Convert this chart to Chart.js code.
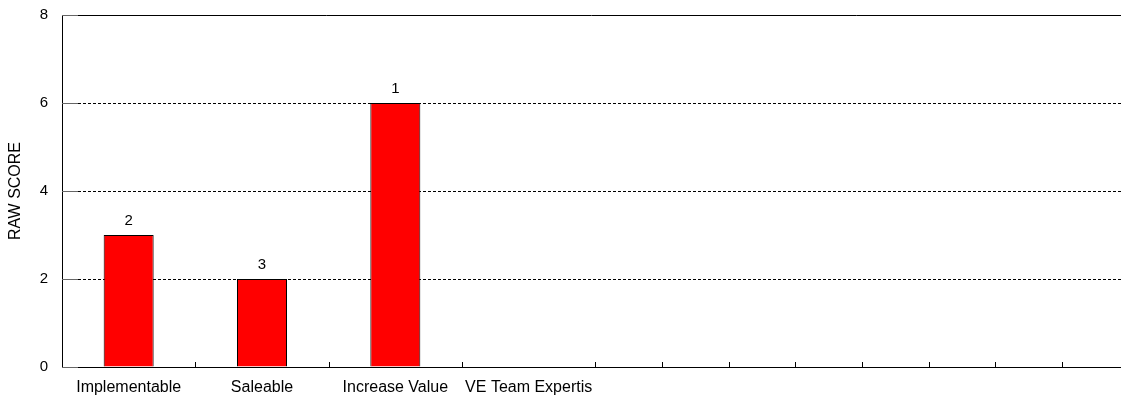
<!DOCTYPE html>
<html>
<head>
<meta charset="utf-8">
<script src="https://cdn.jsdelivr.net/npm/chart.js@4/dist/chart.umd.min.js"></script>
<style>
    html, body { margin: 0; padding: 0; background: #fff; }
    #wrap { width: 1121px; height: 401px; position: relative; }
</style>
</head>
<body>
<div id="wrap"><canvas id="scoreChart"></canvas></div>
<script>
// данные графика
const categories = ['Implementable', 'Saleable', 'Increase Value', 'VE Team Expertis', '', '', '', ''];
const rawScores = [3, 2, 6, 0, 0, 0, 0, 0];
const ranks = ['2', '3', '1', '', '', '', '', ''];
const yTicks = [0, 2, 4, 6, 8];
const xTickMarks = [1, 2, 3, 4, 4.5, 5, 5.5, 6, 6.5, 7, 7.5];

const FONT = 'Liberation Sans, Arial, sans-serif';

// точки баров по центрам категорий
const barPoints = rawScores.map((v, i) => ({ x: i + 0.5, y: v }));

// рамка: верхняя линия и внутренние засечки
const framePlugin = {
    id: 'frame',
    afterDatasetsDraw(chart) {
        const { ctx, chartArea, scales } = chart;
        ctx.save();
        ctx.strokeStyle = '#000';
        ctx.lineWidth = 1;
        ctx.beginPath();
        ctx.moveTo(chartArea.left, Math.round(chartArea.top) + 0.5);
        ctx.lineTo(chartArea.right, Math.round(chartArea.top) + 0.5);
        ctx.stroke();

        ctx.strokeStyle = '#666';
        yTicks.forEach(v => {
            const y = Math.round(scales.y.getPixelForValue(v)) + 0.5;
            ctx.beginPath();
            ctx.moveTo(chartArea.left, y);
            ctx.lineTo(chartArea.left + 16, y);
            ctx.stroke();
        });
        ctx.strokeStyle = '#000';
        xTickMarks.forEach(v => {
            const x = Math.round(scales.x.getPixelForValue(v)) + 0.5;
            ctx.beginPath();
            ctx.moveTo(x, chartArea.bottom);
            ctx.lineTo(x, chartArea.bottom - 5);
            ctx.stroke();
        });
        ctx.restore();
    }
};

// подписи рангов над барами
const rankPlugin = {
    id: 'ranks',
    afterDatasetsDraw(chart) {
        const { ctx } = chart;
        const meta = chart.getDatasetMeta(0);
        ctx.save();
        ctx.font = '15px ' + FONT;
        ctx.fillStyle = '#000';
        ctx.textAlign = 'center';
        ctx.textBaseline = 'alphabetic';
        meta.data.forEach((bar, i) => {
            if (ranks[i]) ctx.fillText(ranks[i], bar.x, bar.y - 10);
        });
        ctx.restore();
    }
};

const ctx = document.getElementById('scoreChart').getContext('2d');
new Chart(ctx, {
    type: 'bar',
    data: {
        datasets: [{
            data: barPoints,
            backgroundColor: '#FF0000',
            borderColor: '#000',
            borderWidth: 1,
            borderSkipped: 'bottom',
            categoryPercentage: 1,
            barPercentage: 0.375
        }]
    },
    options: {
        responsive: true,
        maintainAspectRatio: false,
        animation: false,
        layout: { padding: { top: 15, right: 0, bottom: 0, left: 0 } },
        plugins: {
            legend: { display: false },
            tooltip: { enabled: false }
        },
        scales: {
            x: {
                type: 'linear',
                offset: false,
                min: 0,
                max: 1059 / (400 / 3),
                afterFit(scale) { scale.height = 34; },
                afterBuildTicks(scale) {
                    scale.ticks = categories.slice(0, 4).map((_, i) => ({ value: i + 0.5 }));
                },
                grid: { display: false, drawTicks: false },
                border: { display: true, color: '#000', width: 1 },
                ticks: {
                    autoSkip: false,
                    maxRotation: 0,
                    padding: 11,
                    color: '#000',
                    font: { family: FONT, size: 16 },
                    callback: (v) => categories[Math.floor(v)]
                }
            },
            y: {
                min: 0,
                max: 8,
                afterFit(scale) {
                    scale.width = 62;
                    scale.paddingTop = 0;
                    scale.paddingBottom = 0;
                },
                afterBuildTicks(scale) {
                    scale.ticks = yTicks.map(v => ({ value: v }));
                },
                grid: {
                    drawTicks: false,
                    color: (c) => (c.tick && (c.tick.value === 0 || c.tick.value === 8)) ? 'rgba(0,0,0,0)' : '#000',
                    lineWidth: 1
                },
                border: { display: true, color: '#000', width: 1, dash: [3, 2] },
                title: {
                    display: true,
                    text: 'RAW SCORE',
                    color: '#000',
                    font: { family: FONT, size: 16 },
                    padding: { top: 6, bottom: 0 }
                },
                ticks: {
                    padding: 14,
                    color: '#000',
                    font: { family: FONT, size: 15 }
                }
            }
        }
    },
    plugins: [framePlugin, rankPlugin]
});
</script>
</body>
</html>
